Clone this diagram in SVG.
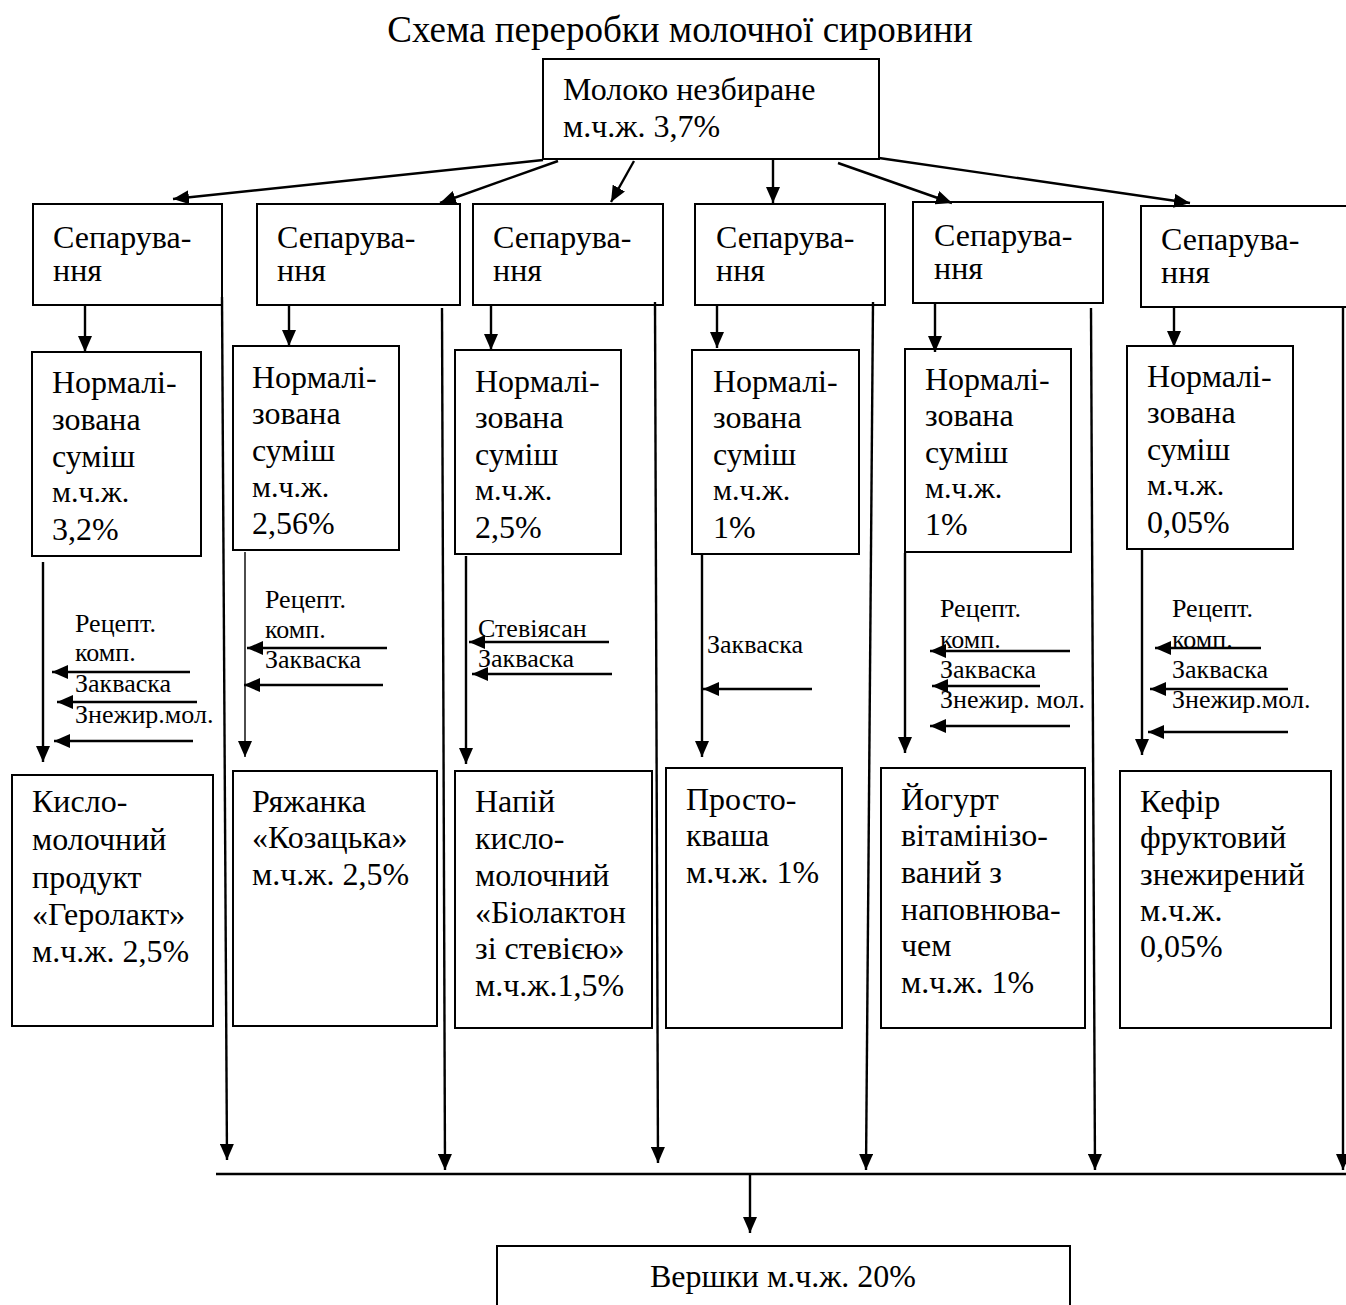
<svg xmlns="http://www.w3.org/2000/svg" width="1346" height="1305" viewBox="0 0 1346 1305">
  <style>
    .box{fill:#fff;stroke:#000;stroke-width:2}
    .t{font-family:"Liberation Serif","Times New Roman",serif;font-size:32px;fill:#000}
    .s{font-size:30px}
    .lab{font-family:"Liberation Serif","Times New Roman",serif;font-size:26px;fill:#000}
    .c{stroke:#000;stroke-width:2.4;fill:none}
    .a{marker-end:url(#ah)}
    .thin{stroke-width:1.4}
  </style>
  <defs>
    <marker id="ah" markerUnits="userSpaceOnUse" markerWidth="16" markerHeight="14" refX="16" refY="7" orient="auto">
      <path d="M0,0 L16,7 L0,14 z" fill="#000"/>
    </marker>
  </defs>
  <rect width="1346" height="1305" fill="#fff"/>

  <text class="t" x="680" y="42" text-anchor="middle" style="font-size:37px">Схема переробки молочної сировини</text>

  <!-- source node -->
  <g id="milk">
    <rect class="box" x="543" y="59" width="336" height="100"/>
    <text class="t" x="563" y="100">Молоко незбиране</text>
    <text class="t" x="563" y="137">м.ч.ж. 3,7%</text>
  </g>

  <!-- separation nodes -->
  <g id="sep1"><rect class="box" x="33" y="204" width="189" height="101"/><text class="t" x="53" y="248">Сепарува-</text><text class="t" x="53" y="281">ння</text></g>
  <g id="sep2"><rect class="box" x="257" y="204" width="203" height="101"/><text class="t" x="277" y="248">Сепарува-</text><text class="t" x="277" y="281">ння</text></g>
  <g id="sep3"><rect class="box" x="473" y="204" width="190" height="101"/><text class="t" x="493" y="248">Сепарува-</text><text class="t" x="493" y="281">ння</text></g>
  <g id="sep4"><rect class="box" x="695" y="204" width="190" height="101"/><text class="t" x="716" y="248">Сепарува-</text><text class="t" x="716" y="281">ння</text></g>
  <g id="sep5"><rect class="box" x="913" y="202" width="190" height="101"/><text class="t" x="934" y="246">Сепарува-</text><text class="t" x="934" y="279">ння</text></g>
  <g id="sep6"><rect class="box" x="1141" y="206" width="210" height="101"/><text class="t" x="1161" y="250">Сепарува-</text><text class="t" x="1161" y="283">ння</text></g>

  <!-- normalised mixes -->
  <g id="norm1"><rect class="box" x="32" y="352" width="169" height="204"/>
    <text class="t" x="52" y="393">Нормалі-</text><text class="t" x="52" y="430">зована</text><text class="t" x="52" y="467">суміш</text><text class="t s" x="52" y="502">м.ч.ж.</text><text class="t" x="52" y="540">3,2%</text></g>
  <g id="norm2"><rect class="box" x="233" y="346" width="166" height="204"/>
    <text class="t" x="252" y="388">Нормалі-</text><text class="t" x="252" y="424">зована</text><text class="t" x="252" y="461">суміш</text><text class="t s" x="252" y="497">м.ч.ж.</text><text class="t" x="252" y="534">2,56%</text></g>
  <g id="norm3"><rect class="box" x="455" y="350" width="166" height="204"/>
    <text class="t" x="475" y="392">Нормалі-</text><text class="t" x="475" y="428">зована</text><text class="t" x="475" y="465">суміш</text><text class="t s" x="475" y="500">м.ч.ж.</text><text class="t" x="475" y="538">2,5%</text></g>
  <g id="norm4"><rect class="box" x="692" y="350" width="167" height="204"/>
    <text class="t" x="713" y="392">Нормалі-</text><text class="t" x="713" y="428">зована</text><text class="t" x="713" y="465">суміш</text><text class="t s" x="713" y="500">м.ч.ж.</text><text class="t" x="713" y="538">1%</text></g>
  <g id="norm5"><rect class="box" x="905" y="349" width="166" height="203"/>
    <text class="t" x="925" y="390">Нормалі-</text><text class="t" x="925" y="426">зована</text><text class="t" x="925" y="463">суміш</text><text class="t s" x="925" y="498">м.ч.ж.</text><text class="t" x="925" y="535">1%</text></g>
  <g id="norm6"><rect class="box" x="1127" y="346" width="166" height="203"/>
    <text class="t" x="1147" y="387">Нормалі-</text><text class="t" x="1147" y="423">зована</text><text class="t" x="1147" y="460">суміш</text><text class="t s" x="1147" y="495">м.ч.ж.</text><text class="t" x="1147" y="533">0,05%</text></g>

  <!-- products -->
  <g id="prod1"><rect class="box" x="12" y="775" width="201" height="251"/>
    <text class="t" x="32" y="812">Кисло-</text><text class="t" x="32" y="850">молочний</text><text class="t" x="32" y="888">продукт</text><text class="t" x="32" y="925">«Геролакт»</text><text class="t" x="32" y="962">м.ч.ж. 2,5%</text></g>
  <g id="prod2"><rect class="box" x="233" y="771" width="204" height="255"/>
    <text class="t" x="252" y="812">Ряжанка</text><text class="t" x="252" y="848">«Козацька»</text><text class="t" x="252" y="885">м.ч.ж. 2,5%</text></g>
  <g id="prod3"><rect class="box" x="455" y="771" width="197" height="257"/>
    <text class="t" x="475" y="812">Напій</text><text class="t" x="475" y="849">кисло-</text><text class="t" x="475" y="886">молочний</text><text class="t" x="475" y="923">«Біолактон</text><text class="t" x="475" y="959">зі стевією»</text><text class="t" x="475" y="996">м.ч.ж.1,5%</text></g>
  <g id="prod4"><rect class="box" x="666" y="768" width="176" height="260"/>
    <text class="t" x="686" y="810">Просто-</text><text class="t" x="686" y="846">кваша</text><text class="t" x="686" y="883">м.ч.ж. 1%</text></g>
  <g id="prod5"><rect class="box" x="881" y="768" width="204" height="260"/>
    <text class="t" x="901" y="810">Йогурт</text><text class="t" x="901" y="846">вітамінізо-</text><text class="t" x="901" y="883">ваний з</text><text class="t" x="901" y="920">наповнюва-</text><text class="t" x="901" y="956">чем</text><text class="t" x="901" y="993">м.ч.ж. 1%</text></g>
  <g id="prod6"><rect class="box" x="1120" y="771" width="211" height="257"/>
    <text class="t" x="1140" y="812">Кефір</text><text class="t" x="1140" y="848">фруктовий</text><text class="t" x="1140" y="885">знежирений</text><text class="t" x="1140" y="921">м.ч.ж.</text><text class="t" x="1140" y="957">0,05%</text></g>

  <!-- cream -->
  <g id="cream"><path class="box" d="M497,1310 V1246 H1070 V1310"/>
    <text class="t" x="783" y="1287" text-anchor="middle">Вершки м.ч.ж. 20%</text></g>

  <!-- ingredient labels -->
  <g id="labels">
    <text class="lab" x="75" y="632">Рецепт.</text><text class="lab" x="75" y="661">комп.</text><text class="lab" x="75" y="692">Закваска</text><text class="lab" x="75" y="723">Знежир.мол.</text>
    <text class="lab" x="265" y="608">Рецепт.</text><text class="lab" x="265" y="638">комп.</text><text class="lab" x="265" y="668">Закваска</text>
    <text class="lab" x="478" y="637">Стевіясан</text><text class="lab" x="478" y="667">Закваска</text>
    <text class="lab" x="707" y="653">Закваска</text>
    <text class="lab" x="940" y="617">Рецепт.</text><text class="lab" x="940" y="648">комп.</text><text class="lab" x="940" y="678">Закваска</text><text class="lab" x="940" y="708">Знежир. мол.</text>
    <text class="lab" x="1172" y="617">Рецепт.</text><text class="lab" x="1172" y="648">комп.</text><text class="lab" x="1172" y="678">Закваска</text><text class="lab" x="1172" y="708">Знежир.мол.</text>
  </g>

  <g id="connectors">
    <!-- milk to separation -->
    <line class="c a" x1="543" y1="160" x2="173" y2="199"/>
    <line class="c a" x1="558" y1="161" x2="440" y2="203"/>
    <line class="c a" x1="634" y1="161" x2="611" y2="202"/>
    <line class="c a" x1="773" y1="160" x2="773" y2="203"/>
    <line class="c a" x1="838" y1="163" x2="952" y2="203"/>
    <line class="c a" x1="879" y1="158" x2="1190" y2="203"/>
    <!-- separation to normalised mix -->
    <line class="c a" x1="85" y1="305" x2="85" y2="352"/>
    <line class="c a" x1="289" y1="305" x2="289" y2="346"/>
    <line class="c a" x1="491" y1="305" x2="491" y2="350"/>
    <line class="c a" x1="717" y1="305" x2="717" y2="348"/>
    <line class="c a" x1="935" y1="303" x2="935" y2="352"/>
    <line class="c a" x1="1174" y1="307" x2="1174" y2="347"/>
    <!-- normalised mix to product -->
    <line class="c a" x1="43" y1="562" x2="43" y2="762"/>
    <line class="c a thin" x1="245" y1="552" x2="245" y2="757"/>
    <line class="c a" x1="466" y1="556" x2="466" y2="764"/>
    <line class="c a" x1="702" y1="554" x2="702" y2="757"/>
    <line class="c a" x1="905" y1="553" x2="905" y2="753"/>
    <line class="c a" x1="1142" y1="550" x2="1142" y2="755"/>
    <!-- ingredient inputs -->
    <line class="c a" x1="190" y1="672" x2="52" y2="672"/>
    <line class="c a" x1="197" y1="702" x2="57" y2="702"/>
    <line class="c a" x1="193" y1="741" x2="54" y2="741"/>
    <line class="c a" x1="387" y1="648" x2="247" y2="648"/>
    <line class="c a" x1="383" y1="685" x2="244" y2="685"/>
    <line class="c a" x1="609" y1="642" x2="469" y2="642"/>
    <line class="c a" x1="612" y1="674" x2="472" y2="674"/>
    <line class="c a" x1="812" y1="689" x2="703" y2="689"/>
    <line class="c a" x1="1070" y1="651" x2="930" y2="651"/>
    <line class="c a" x1="1040" y1="686" x2="932" y2="686"/>
    <line class="c a" x1="1070" y1="726" x2="930" y2="726"/>
    <line class="c a" x1="1261" y1="648" x2="1155" y2="648"/>
    <line class="c a" x1="1288" y1="689" x2="1150" y2="689"/>
    <line class="c a" x1="1288" y1="732" x2="1148" y2="732"/>
    <!-- cream lines -->
    <line class="c a" x1="222" y1="297" x2="227" y2="1160"/>
    <line class="c a" x1="442" y1="308" x2="445" y2="1170"/>
    <line class="c a" x1="655" y1="302" x2="658" y2="1163"/>
    <line class="c a" x1="873" y1="302" x2="866" y2="1170"/>
    <line class="c a" x1="1091" y1="308" x2="1095" y2="1170"/>
    <line class="c a" x1="1343" y1="307" x2="1343" y2="1170"/>
    <line class="c" x1="216" y1="1174" x2="1346" y2="1174"/>
    <line class="c a" x1="750" y1="1174" x2="750" y2="1233"/>
  </g>
</svg>
